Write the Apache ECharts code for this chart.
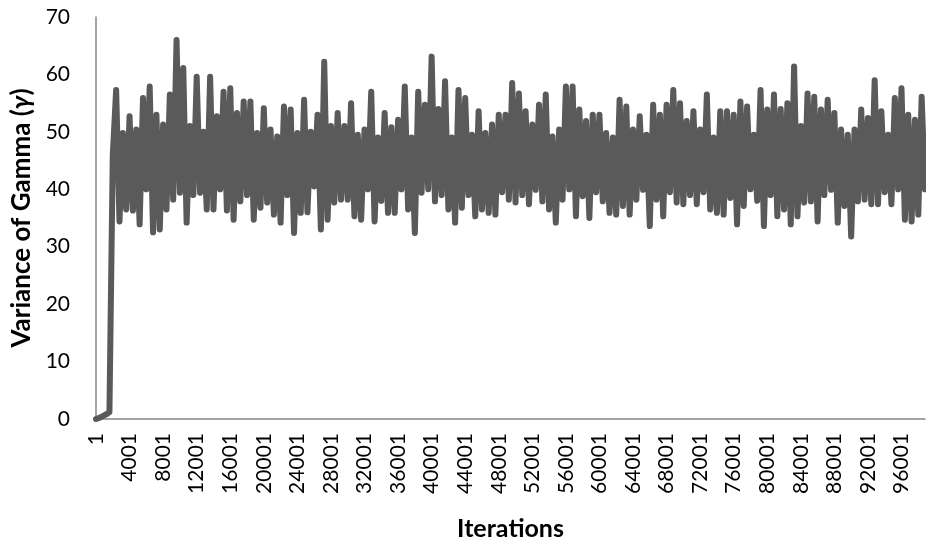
<!DOCTYPE html>
<html>
<head>
<meta charset="utf-8">
<script src="https://cdn.jsdelivr.net/npm/echarts@6/dist/echarts.min.js"></script>
<style>
html,body{margin:0;padding:0;background:#fff;}
#chart{width:926px;height:546px;}
</style>
</head>
<body>
<div id="chart"></div>
<script>
// Iterations sampled every 400 (category labels)
const iterationStep = 400;
const firstIteration = 1;

// Variance of Gamma trace values
const gammaVariance = [
  0, 0.2, 0.5, 0.8, 1.2, 46, 57.3, 34.4, 49.8, 36.5,
  52.7, 36.3, 50.4, 33.9, 55.9, 40, 57.9, 32.5, 53, 33,
  51.3, 36.5, 56.5, 38.2, 66, 39.4, 61.1, 34.2, 51, 39,
  59.6, 39.4, 50, 36.5, 59.6, 36.5, 52.7, 40, 57, 36.3,
  57.6, 34.7, 53.3, 37.9, 55.3, 39, 55.3, 34.7, 49.8, 36.8,
  54.1, 37.7, 50.4, 35.6, 49.2, 34.2, 54.4, 39, 53.9, 32.4,
  49.8, 35.9, 55.6, 36, 50, 40.5, 53, 33, 62.2, 34.7,
  51, 37.7, 53.3, 38.2, 51, 38.2, 55, 35.3, 49.5, 34.7,
  50.4, 40, 57, 34.4, 49, 38, 53.3, 35.9, 50.8, 35.9,
  52.1, 40, 57.9, 36.5, 49, 32.4, 57, 39.4, 54.7, 40,
  63.1, 37.9, 54, 39, 58.8, 36.5, 49, 34.2, 57.3, 36.8,
  55.9, 39, 49.5, 35.3, 53.6, 36.5, 49.8, 35.9, 51.3, 35.6,
  53, 39.5, 53, 38.2, 58.5, 37.7, 56.7, 39, 53.6, 37.4,
  51.3, 39.9, 54.7, 37.9, 56.5, 36.5, 49.2, 34.2, 50.4, 38.2,
  57.9, 40, 57.9, 35.3, 53.9, 38.8, 51.9, 35, 53, 39.5,
  53, 37.9, 49.8, 35.9, 49, 35.6, 55.6, 37.1, 54.4, 35.6,
  50.4, 38.2, 52.7, 39.9, 49.5, 33.6, 54.7, 38.2, 53, 35.3,
  54.7, 39.5, 57.3, 37.7, 55, 37.4, 51.9, 39, 53.6, 37.4,
  50.4, 39.5, 56.5, 36.5, 49, 35.9, 53.6, 35.6, 53.6, 38.5,
  53, 33.9, 55.3, 37.1, 54.4, 40, 49.5, 38, 57.3, 33.6,
  53.9, 39, 56.5, 35.3, 54, 36.5, 55, 33.9, 61.4, 35.3,
  51, 37.7, 56.7, 37.9, 56.1, 34.4, 53.9, 39, 55.6, 39.9,
  53.3, 34.2, 50.4, 37.1, 49.5, 31.8, 50.4, 37.9, 53.9, 38.2,
  52.4, 37.4, 59, 37.4, 53.6, 39.5, 49.5, 37.4, 55.9, 40,
  57.6, 34.7, 53, 34.4, 52.1, 35.6, 56.1, 40
];

const iterations = gammaVariance.map((_, i) => String(firstIteration + i * iterationStep));

const yTicks = { min: 0, max: 70, interval: 10 };
const xTitle = 'Iterations';
const yTitle = 'Variance of Gamma ({g|γ})';

const font = 'Lato, "Open Sans", sans-serif';
const chart = echarts.init(document.getElementById('chart'), null, { renderer: 'canvas' });
chart.setOption({
  animation: false,
  backgroundColor: '#ffffff',
  grid: { left: 96, right: 1, top: 17, bottom: 126, containLabel: false },
  xAxis: {
    type: 'category',
    data: iterations,
    boundaryGap: false,
    name: xTitle,
    nameLocation: 'middle',
    nameGap: 97,
    nameTextStyle: { fontFamily: font, fontSize: 25, fontWeight: 'bold', color: '#000' },
    axisLine: { lineStyle: { color: '#868686', width: 1.5 } },
    axisTick: { show: false },
    splitLine: { show: false },
    axisLabel: {
      interval: 9,
      rotate: 90,
      margin: 14,
      fontFamily: font,
      fontSize: 21,
      color: '#000'
    }
  },
  yAxis: {
    type: 'value',
    min: yTicks.min,
    max: yTicks.max,
    interval: yTicks.interval,
    name: yTitle,
    nameLocation: 'middle',
    nameRotate: 90,
    nameGap: 60,
    nameTextStyle: {
      fontFamily: font, fontSize: 26, fontWeight: 'bold', color: '#000',
      rich: { g: { fontFamily: font, fontSize: 26, fontWeight: 'bold', fontStyle: 'italic', color: '#000' } }
    },
    axisLine: { show: true, lineStyle: { color: '#868686', width: 1.5 } },
    axisTick: { show: false },
    splitLine: { show: false },
    axisLabel: { margin: 26, fontFamily: font, fontSize: 21, color: '#000' }
  },
  series: [{
    type: 'line',
    data: gammaVariance,
    symbol: 'none',
    lineStyle: { color: '#5a5a5a', width: 6, cap: 'round', join: 'round' },
    z: 2
  }]
});
</script>
</body>
</html>
